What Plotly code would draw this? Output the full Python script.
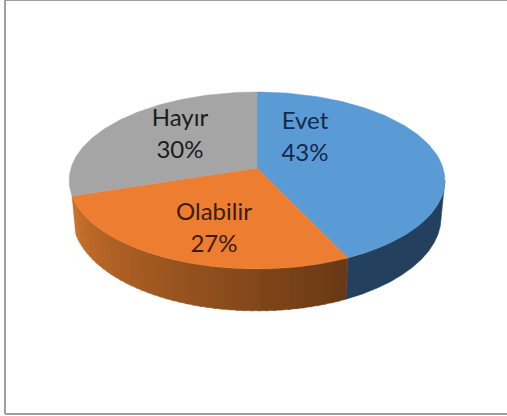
import numpy as np
import plotly.graph_objects as go

# data
categories = ["Evet", "Olabilir", "Hayır"]
values = [43, 27, 30]
colors = ["#5b9bd5", "#ed7d31", "#a5a5a5"]
text_colors = ["#14294d", "#3d1c08", "#1c1c1c"]
label_x = [305, 214, 180]
label_y = [139, 230, 136]

W, H = 507, 416
CX, D = 257, 186
B, A, C = 168, 63, -0.141
DEPTH = 36
SHRINK = 0.98
WALL_START = 98.0  # visible right extreme, degrees clockwise from top


def top(theta):
    t = np.radians(theta)
    u, v = np.sin(t), -np.cos(t)
    w = 1 + C * v
    return CX + D * u / w, (B + A * v) / w


def bottom(theta):
    t = np.radians(theta)
    v = -np.cos(t)
    w = 1 + C * v
    x, y = top(theta)
    return CX + SHRINK * (x - CX), y + DEPTH / w


def wall(t0, t1, color):
    th = np.linspace(t0, t1, 12)
    xt, yt = top(th)
    xb, yb = bottom(th[::-1])
    return go.Scatter(x=np.r_[xt, xb, xt[0]], y=np.r_[yt, yb, yt[0]], mode="lines", fill="toself",
                      fillcolor=color, line=dict(color=color, width=0.5), hoverinfo="skip", showlegend=False)


def mix(a, b, f):
    return "rgb(%d,%d,%d)" % tuple(a[i] + (b[i] - a[i]) * f for i in range(3))


edges = np.r_[0, np.cumsum(values)] / sum(values) * 360
fig = go.Figure()

# side walls
fig.add_trace(wall(WALL_START, edges[1], "#23405e"))
n = 48
orange_dark = (104, 56, 20)
orange_light = (204, 114, 44)
steps = np.linspace(edges[1], edges[2], n + 1)
for i in range(n):
    f = (i + 0.5) / n
    fig.add_trace(wall(steps[i], min(steps[i + 1] + 0.5, edges[2]), mix(orange_dark, orange_light, f)))

# top faces
for i, name in enumerate(categories):
    th = np.linspace(edges[i], edges[i + 1], 120)
    x, y = top(th)
    fig.add_trace(go.Scatter(x=np.r_[CX, x, CX], y=np.r_[B, y, B], mode="lines", fill="toself",
                             fillcolor=colors[i], line=dict(color=colors[i], width=0.5),
                             name=name, hoverinfo="name", showlegend=False))

# labels
for i, name in enumerate(categories):
    fig.add_trace(go.Scatter(x=[label_x[i]], y=[label_y[i]], mode="text",
                             text=[f"{name}<br>{values[i]}%"], textposition="middle center",
                             textfont=dict(family="Lato", size=24, color=text_colors[i]),
                             hoverinfo="skip", showlegend=False))

frame = dict(type="line", xref="x", yref="y", line=dict(color="#a0a0a0", width=2))
fig.update_layout(
    width=W, height=H, autosize=False,
    margin=dict(l=0, r=0, t=0, b=0),
    paper_bgcolor="white", plot_bgcolor="white",
    xaxis=dict(range=[0, W], visible=False, fixedrange=True),
    yaxis=dict(range=[H, 0], visible=False, fixedrange=True),
    shapes=[
        dict(frame, x0=5, x1=5, y0=0, y1=414),
        dict(frame, x0=5, x1=W, y0=414, y1=414),
        dict(frame, x0=5, x1=W, y0=0, y1=0),
    ],
)
fig.write_html("out.html", config=dict(displayModeBar=False),
               post_script="document.body.style.margin='0';document.documentElement.style.overflow='hidden';")
